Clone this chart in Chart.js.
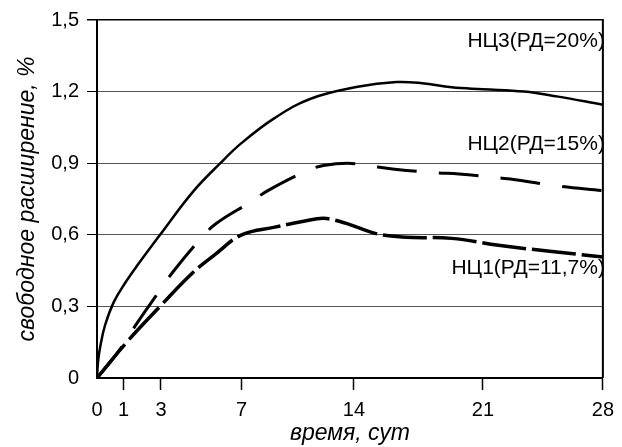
<!DOCTYPE html>
<html>
<head>
<meta charset="utf-8">
<script src="https://cdn.jsdelivr.net/npm/chart.js@4/dist/chart.umd.min.js"></script>
<style>
  html, body { margin: 0; padding: 0; background: #fff; }
  #wrap { width: 622px; height: 447px; position: relative; }
</style>
</head>
<body>
<div id="wrap"><canvas id="chart"></canvas></div>
<script>
// Sample Data
const xTickValues = [0, 1, 3, 7, 14, 21, 28];
const yTickStep = 0.3;

const nc1Days = [0, 1.19, 2.95, 4.56, 5.72, 7, 9.07, 11.7, 12.3, 13.57, 15.2, 16.8, 19.3, 21.9, 25.3, 28];
const nc1Values = [0, 0.152, 0.30, 0.44, 0.52, 0.60, 0.632, 0.667, 0.668, 0.647, 0.605, 0.59, 0.585, 0.556, 0.528, 0.507];

const nc2Days = [0, 0.8, 1.72, 2.95, 3.6, 4.9, 5.72, 7.55, 8.66, 11.1, 12.1, 13.6, 14.7, 16.2, 18.4, 19.7, 21.7, 23, 25.3, 28];
const nc2Values = [0, 0.11, 0.23, 0.368, 0.445, 0.577, 0.646, 0.737, 0.786, 0.869, 0.89, 0.90, 0.89, 0.875, 0.86, 0.855, 0.84, 0.83, 0.805, 0.785];

const nc3Days = [0, 0.04, 0.12, 0.3, 0.64, 1.1, 1.72, 2.95, 4.58, 5.88, 7, 9.07, 11.3, 14.2, 16.3, 17.7, 19.3, 21, 23.4, 25.3, 28];
const nc3Values = [0, 0.07, 0.13, 0.22, 0.32, 0.40, 0.47, 0.6, 0.78, 0.895, 0.985, 1.09, 1.17, 1.22, 1.24, 1.235, 1.218, 1.21, 1.2, 1.18, 1.145];

const seriesNames = ['НЦ1(РД=11,7%)', 'НЦ2(РД=15%)', 'НЦ3(РД=20%)'];

// the time axis of the original is not evenly spaced: ticks sit at these fractions of the width
const AXIS_FRACTIONS = [0, 0.0525, 0.1265, 0.286, 0.508, 0.763, 1];

function interp(v, from, to) {
  if (v <= from[0]) return to[0];
  for (let i = 0; i < from.length - 1; i++) {
    if (v <= from[i + 1]) {
      const t = (v - from[i]) / (from[i + 1] - from[i]);
      return to[i] + t * (to[i + 1] - to[i]);
    }
  }
  return to[to.length - 1];
}

class StretchedScale extends Chart.LinearScale {
  static id = 'stretched';
  static defaults = {};
  getPixelForValue(value) {
    if (value === null || isNaN(value)) return NaN;
    return this.getPixelForDecimal(interp(value, xTickValues, AXIS_FRACTIONS));
  }
  getValueForPixel(pixel) {
    return interp(this.getDecimalForPixel(pixel), AXIS_FRACTIONS, xTickValues);
  }
}
Chart.register(StretchedScale);

function toPoints(xs, ys) {
  return xs.map((x, i) => ({ x: x, y: ys[i] }));
}

const FONT = '"Liberation Sans", Arial, sans-serif';
Chart.defaults.font.family = FONT;
Chart.defaults.color = '#000';

// right frame line + curve captions
const framePlugin = {
  id: 'frame',
  afterDatasetsDraw(chart) {
    const { ctx, chartArea } = chart;
    const y = chart.scales.y;
    ctx.save();
    ctx.strokeStyle = '#000';
    ctx.lineWidth = 2;
    ctx.beginPath();
    ctx.moveTo(chartArea.right, chartArea.top - 1);
    ctx.lineTo(chartArea.right, chartArea.bottom);
    ctx.stroke();

    ctx.fillStyle = '#000';
    ctx.font = '21px ' + FONT;
    ctx.textAlign = 'right';
    ctx.textBaseline = 'middle';
    chart.data.datasets.forEach(ds => {
      ctx.fillText(ds.label, chartArea.right + 2, y.getPixelForValue(ds.captionAt));
    });
    ctx.restore();
  }
};

const ctx = document.getElementById('chart').getContext('2d');
new Chart(ctx, {
  type: 'line',
  data: {
    datasets: [
      {
        label: seriesNames[0],
        data: toPoints(nc1Days, nc1Values),
        borderColor: '#000',
        borderWidth: 3.5,
        borderDash: [44, 6],
        captionAt: 0.46
      },
      {
        label: seriesNames[1],
        data: toPoints(nc2Days, nc2Values),
        borderColor: '#000',
        borderWidth: 3,
        borderDash: [40, 22],
        captionAt: 0.98
      },
      {
        label: seriesNames[2],
        data: toPoints(nc3Days, nc3Values),
        borderColor: '#000',
        borderWidth: 2.5,
        captionAt: 1.41
      }
    ]
  },
  options: {
    responsive: true,
    maintainAspectRatio: false,
    animation: false,
    elements: { point: { radius: 0 }, line: { tension: 0.4 } },
    layout: { padding: { top: 19, right: 12, left: 0, bottom: 0 } },
    plugins: {
      legend: { display: false },
      tooltip: { enabled: false }
    },
    scales: {
      x: {
        type: 'stretched',
        min: 0,
        max: 28,
        afterBuildTicks: scale => {
          scale.ticks = xTickValues.map(v => ({ value: v }));
        },
        afterFit: scale => { scale.height = 69; },
        border: { display: true, color: '#000', width: 2 },
        grid: {
          drawOnChartArea: false,
          drawTicks: true,
          tickLength: 12,
          tickWidth: 1.5,
          tickColor: c => (c.tick && c.tick.value === 0 ? 'rgba(0,0,0,0)' : '#000')
        },
        ticks: {
          autoSkip: false,
          maxRotation: 0,
          padding: 8,
          color: '#000',
          font: { size: 20 },
          callback: v => String(v)
        },
        title: {
          display: true,
          text: 'время, сут',
          color: '#000',
          font: { size: 23, style: 'italic' },
          padding: { top: 0, bottom: 0 }
        }
      },
      y: {
        min: 0,
        max: 1.5,
        afterFit: scale => { scale.width = 97; },
        border: { display: true, color: '#000', width: 2 },
        grid: {
          color: c => (c.tick && c.tick.value >= 1.5 ? '#000' : '#555'),
          lineWidth: c => (c.tick && c.tick.value >= 1.5 ? 1.5 : 1),
          drawTicks: true,
          tickLength: 10,
          tickColor: c => (c.tick && c.tick.value === 0 ? 'rgba(0,0,0,0)' : '#000')
        },
        ticks: {
          stepSize: yTickStep,
          padding: 8,
          color: '#000',
          font: { size: 20 },
          callback: v => (v === 0 ? '0' : v.toFixed(1).replace('.', ','))
        },
        title: {
          display: true,
          text: 'свободное расширение, %',
          color: '#000',
          font: { size: 23, style: 'italic' },
          padding: { top: 14, bottom: 0 }
        }
      }
    }
  },
  plugins: [framePlugin]
});
</script>
</body>
</html>
